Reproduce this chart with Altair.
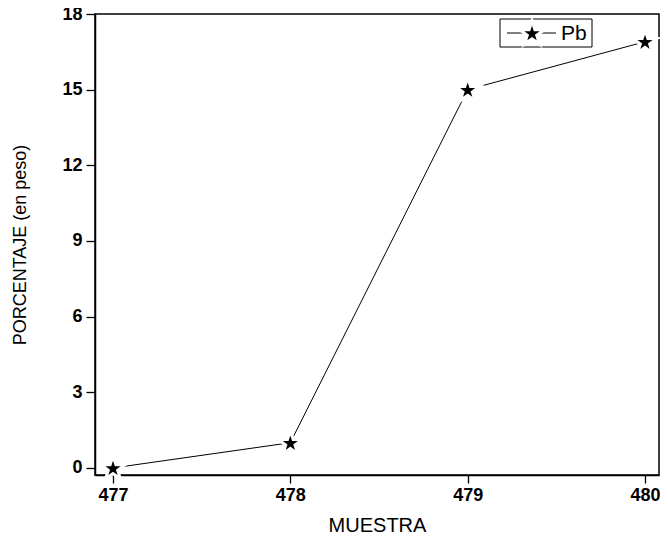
import altair as alt
import pandas as pd
import math

muestra = [477, 478, 479, 480]
pb = [0.0, 1.0, 15.0, 16.9]
y_ticks = [0, 3, 6, 9, 12, 15, 18]
x_ticks = [477, 478, 479, 480]
series_name = ["Pb"]

df = pd.DataFrame({"MUESTRA": muestra, "Pb": pb})
leg = pd.DataFrame({"serie": series_name})

W, H = 564, 461


def star_path(r=1.0, ratio=0.382):
    pts = []
    for i in range(10):
        ang = math.radians(-90 + 36 * i)
        rr = r if i % 2 == 0 else r * ratio
        pts.append((rr * math.cos(ang), rr * math.sin(ang) + 0.1))
    return "M" + "L".join(f"{x:.3f},{y:.3f}" for x, y in pts) + "Z"


STAR = star_path()

xscale = alt.Scale(domain=[476.8985, 480.079], nice=False, zero=False)
yscale = alt.Scale(domain=[-0.28, 18], nice=False, zero=False)

xaxis = alt.Axis(values=x_ticks, format="d", title="MUESTRA", labelFont="Liberation Sans",
                 labelFontWeight="bold", labelFontSize=18, labelColor="black",
                 tickColor="black", tickSize=8, tickWidth=1.3, domainColor="black", domainWidth=1.5,
                 labelPadding=3, grid=False, titleFont="Liberation Sans", titleFontSize=20,
                 titleFontWeight="normal", titleColor="black", titleY=56,
                 titleBaseline="alphabetic")
yaxis = alt.Axis(values=y_ticks, title="PORCENTAJE (en peso)", labelFont="Liberation Sans",
                 labelFontWeight="bold", labelFontSize=18, labelColor="black",
                 tickColor="black", tickSize=9, tickWidth=1.3, domainColor="black", domainWidth=1.5,
                 labelPadding=4, grid=False, titleFont="Liberation Sans", titleFontSize=18,
                 titleFontWeight="normal", titleColor="black", titleX=-75, titleY=H / 2,
                 titleBaseline="middle", titleAngle=-90)

base = alt.Chart(df).encode(
    x=alt.X("MUESTRA:Q", scale=xscale, axis=xaxis),
    y=alt.Y("Pb:Q", scale=yscale, axis=yaxis),
)

line = base.mark_line(color="black", strokeWidth=1)
pts_gap = base.mark_point(shape=STAR, filled=True, size=250, fill="black",
                          stroke="white", strokeWidth=6, opacity=1)
pts = base.mark_point(shape=STAR, filled=True, size=250, fill="black", strokeWidth=0, opacity=1)

# legend (drawn in pixel space)
lbox = alt.Chart(leg).mark_rect(fill="white", stroke="black", strokeWidth=1).encode(
    x=alt.value(405), x2=alt.value(497), y=alt.value(5), y2=alt.value(33))
lline = alt.Chart(leg).mark_rule(color="black", strokeWidth=1).encode(
    x=alt.value(412), x2=alt.value(461), y=alt.value(19))
lgap = alt.Chart(leg).mark_point(shape=STAR, filled=True, size=260, fill="black",
                                 stroke="white", strokeWidth=6, opacity=1).encode(
    x=alt.value(437), y=alt.value(19))
lstar = alt.Chart(leg).mark_point(shape=STAR, filled=True, size=260, fill="black",
                                  strokeWidth=0, opacity=1).encode(
    x=alt.value(437), y=alt.value(19))
ltext = alt.Chart(leg).mark_text(align="left", baseline="middle", font="Liberation Sans",
                                 fontSize=21, color="black").encode(
    x=alt.value(466), y=alt.value(20), text="serie:N")

chart = alt.layer(line, pts_gap, pts, lbox, lline, lgap, lstar, ltext).properties(
    width=W, height=H,
    autosize=alt.AutoSizeParams(type="none"),
    padding={"left": 87, "top": 6, "right": 1, "bottom": 62},
    background="white",
).configure_view(stroke="black", strokeWidth=1.5)

chart.save("out.html", embed_options={"renderer": "svg", "actions": False})
